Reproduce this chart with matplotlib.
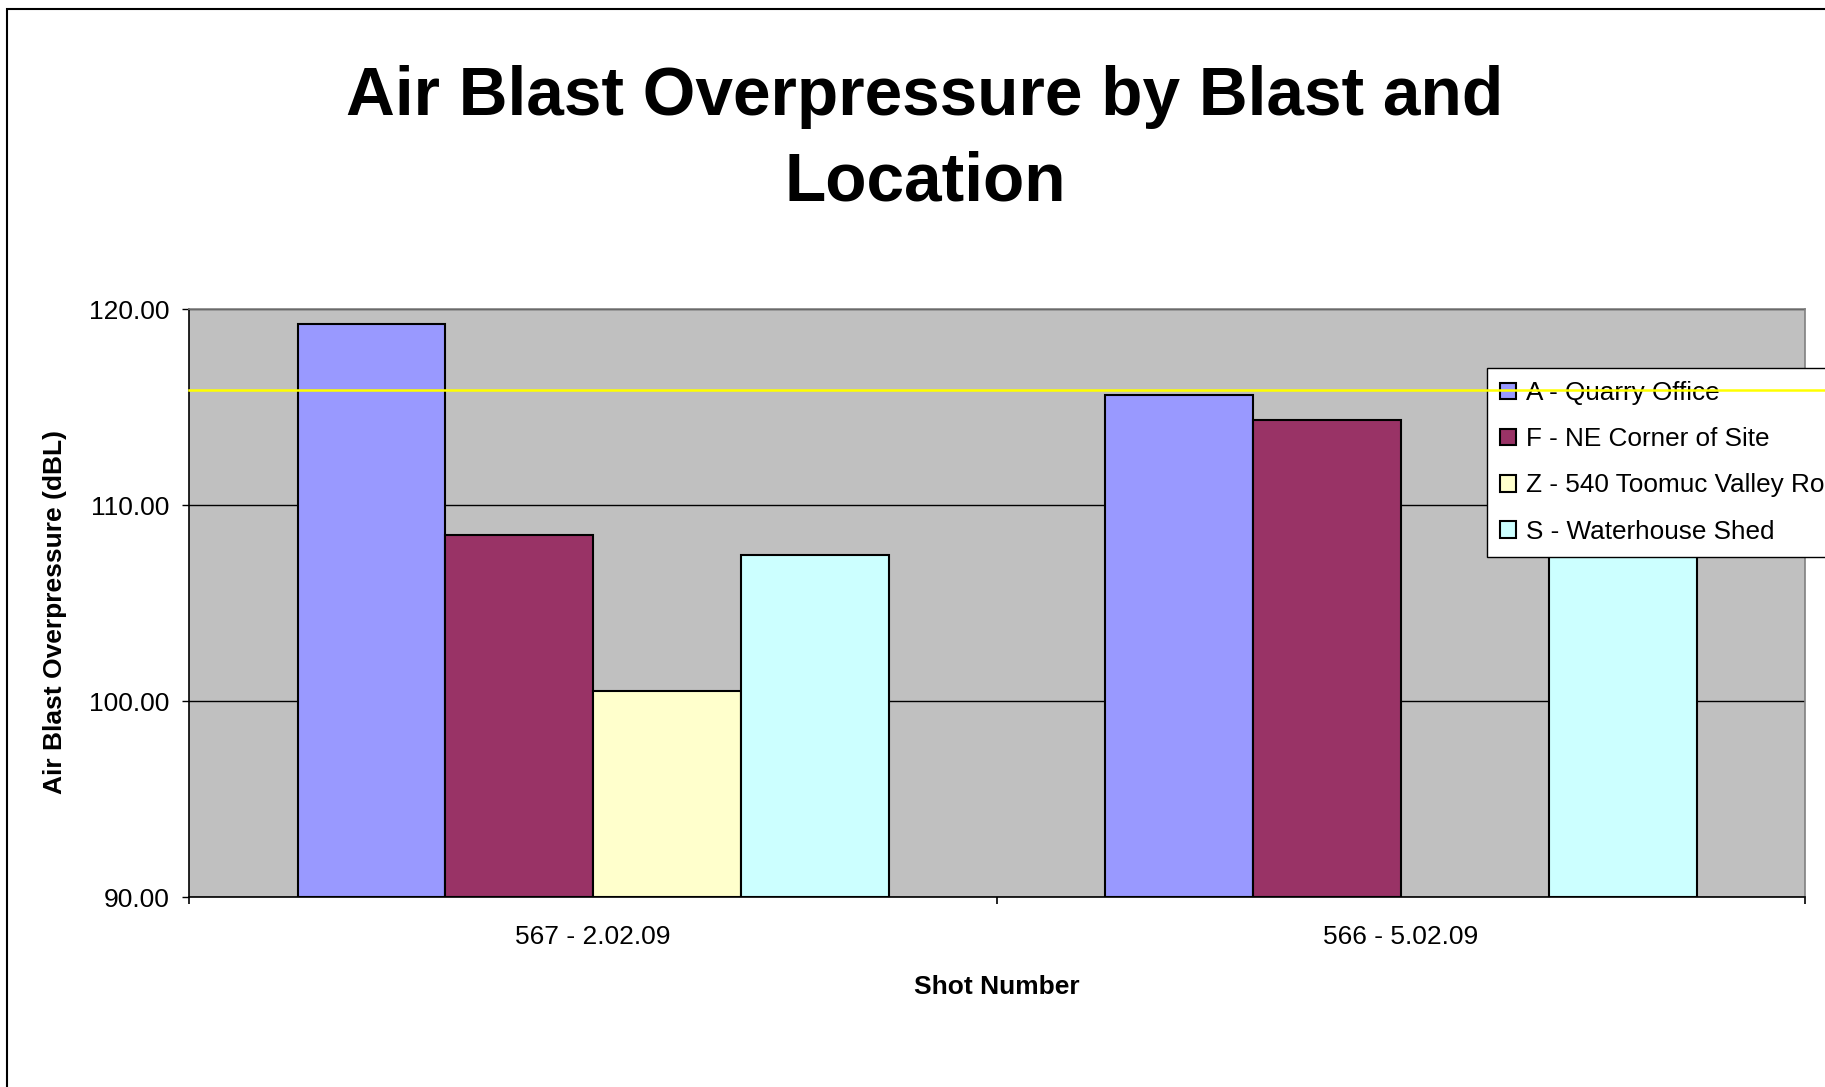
import numpy as np
import matplotlib
matplotlib.use("Agg")
import matplotlib.pyplot as plt
from matplotlib import patches

plt.rcParams['font.family'] = ['Liberation Sans', 'DejaVu Sans']

# ---- data ----
shots = ["567 - 2.02.09", "566 - 5.02.09"]
series_names = ["A - Quarry Office", "F - NE Corner of Site",
                "Z - 540 Toomuc Valley Road", "S - Waterhouse Shed"]
quarry_office = [119.25, 115.63]
ne_corner = [108.47, 114.35]
toomuc_valley = [100.54, np.nan]
waterhouse_shed = [107.45, 109.5]
limit_value = 115.9
y_ticks = [90.0, 100.0, 110.0, 120.0]

colors = ["#9999FF", "#993366", "#FFFFCC", "#CCFFFF"]

W, H = 1825, 1087
fig = plt.figure(figsize=(W / 100, H / 100), dpi=100)

# outer chart frame
fig.patches.append(patches.Rectangle((7 / W, -0.2), 1.5, 1.2 - 9 / H,
                                     transform=fig.transFigure, fill=False,
                                     edgecolor="black", lw=1.5, zorder=0))

ax_l, ax_r, ax_t, ax_b = 189.3, 1805, 309.3, 897.3
ax = fig.add_axes([ax_l / W, 1 - ax_b / H, (ax_r - ax_l) / W, (ax_b - ax_t) / H])
ax.set_facecolor("#C0C0C0")

x = np.arange(len(shots))
width = 0.183
all_series = [quarry_office, ne_corner, toomuc_valley, waterhouse_shed]
handles = []
for i, (vals, name, c) in enumerate(zip(all_series, series_names, colors)):
    offs = (i - 1.5) * width
    b = ax.bar(x + offs, np.array(vals, dtype=float) - 90.0, bottom=90.0, width=width,
               color=c, edgecolor="black", linewidth=1.5, label=name, zorder=3)
    handles.append(b)

ax.set_xlim(-0.5, 1.5)
ax.set_ylim(90, 120)
ax.set_yticks(y_ticks)
ax.set_yticklabels([f"{v:.2f}" for v in y_ticks], fontsize=19)
ax.yaxis.grid(True, color="black", linewidth=1.0, zorder=1)
ax.set_axisbelow(True)
ax.tick_params(axis="y", direction="out", length=5, width=1, pad=9)

ax.set_xticks(x)
ax.set_xticklabels(shots, fontsize=19)
ax.tick_params(axis="x", which="major", length=0, pad=20)
ax.set_xticks([-0.5, 0.5, 1.5], minor=True)
ax.tick_params(axis="x", which="minor", direction="out", length=5, width=1.2)

for s in ["left", "bottom"]:
    ax.spines[s].set_color("black")
    ax.spines[s].set_linewidth(1.2)
for s in ["top", "right"]:
    ax.spines[s].set_color("#808080")
    ax.spines[s].set_linewidth(1.2)

ax.set_xlabel("Shot Number", fontsize=19, fontweight="bold", labelpad=19)
ax.set_ylabel("Air Blast Overpressure (dBL)", fontsize=19, fontweight="bold")
ax.yaxis.set_label_coords((55 - ax_l) / (ax_r - ax_l), (ax_b - 612) / (ax_b - ax_t))
ax.yaxis.label.set_va("center")

fig.text(925 / W, 1 - 97 / H, "Air Blast Overpressure by Blast and",
         ha="center", va="center", fontsize=48.7, fontweight="bold")
fig.text(795 * 1.1639 / W, 1 - 183 / H, "Location",
         ha="center", va="center", fontsize=48.7, fontweight="bold")

leg = ax.legend(handles=handles, labels=series_names, loc="upper left",
                bbox_to_anchor=(1487 / W, 1 - 368 / H), bbox_transform=fig.transFigure,
                fontsize=18.8, frameon=True, fancybox=False, edgecolor="black",
                framealpha=1, borderpad=0.5, labelspacing=0.85, handlelength=0.6,
                handleheight=0.6, handletextpad=0.4, borderaxespad=0)
leg.get_frame().set_linewidth(1.0)
leg.set_zorder(5)

# limit line, drawn over the legend and extending to the figure edge
ax.axhline(limit_value, xmin=0, xmax=(W - ax_l) / (ax_r - ax_l), color="#FFFF00",
           linewidth=1.8, zorder=6, clip_on=False)

fig.savefig("out.png", dpi=100)
